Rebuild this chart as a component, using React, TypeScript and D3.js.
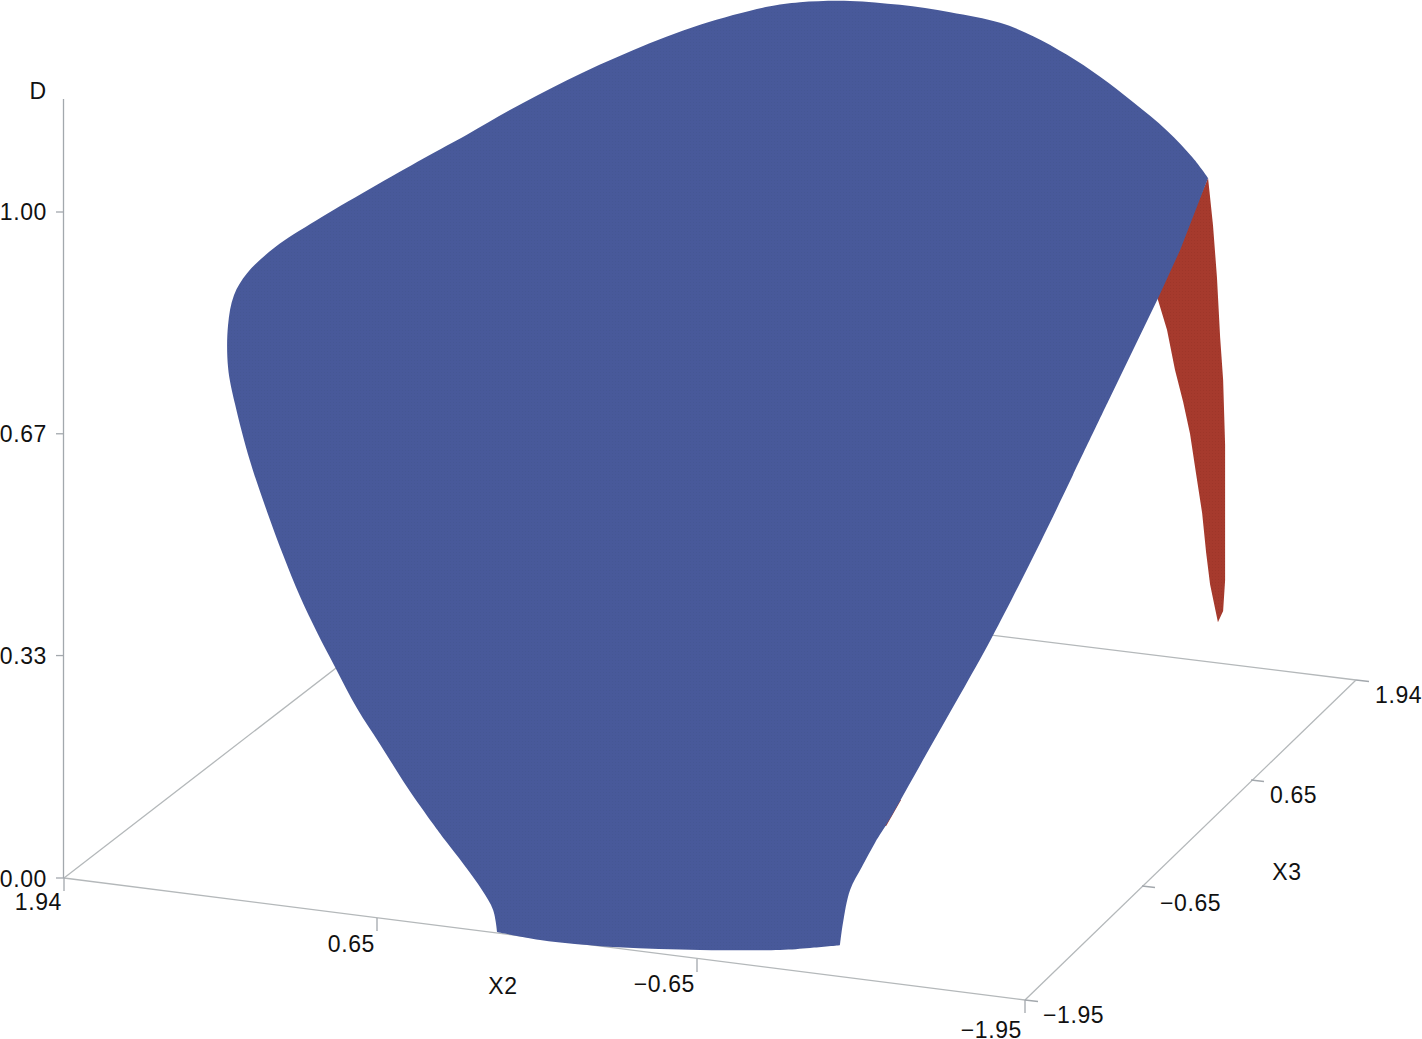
import React from "react";
import * as d3 from "d3";

const WIDTH = 1422;
const HEIGHT = 1039;

const x2Ticks = [1.94, 0.65, -0.65, -1.95];
const x3Ticks = [-1.95, -0.65, 0.65, 1.94];
const dTicks = [0, 0.334, 0.667, 1];

// Blue surface silhouette: horizontal position in X2 units, height in D units.
// Left and top edge, from the bottom-left corner to the apex
const blueTopU = [0.187,0.203,0.248,0.321,0.398,0.446,0.552,0.661,0.754,0.843,0.916,0.985,1.053,1.118,1.187,1.248,1.276,1.276,1.252,1.199,1.086,0.916,0.487,0.309,0.135,-0.096,-0.363,-0.635,-0.906,-1.039,-1.242,-1.444,-1.647,-1.849,-1.983,-2.12,-2.254,-2.387,-2.525,-2.63,-2.691];
const blueTopD = [-0.081,-0.048,-0.018,0.02,0.057,0.081,0.137,0.201,0.255,0.317,0.369,0.423,0.485,0.55,0.626,0.712,0.767,0.83,0.875,0.908,0.947,0.988,1.08,1.116,1.153,1.198,1.243,1.281,1.308,1.315,1.317,1.311,1.3,1.284,1.264,1.236,1.203,1.165,1.122,1.081,1.051];
// Right edge, from the apex to the bottom-right corner
const blueRightU = [-2.691,-2.578,-2.489,-2.29,-2.144,-2.011,-1.817,-1.687,-1.537,-1.4,-1.343,-1.29,-1.242,-1.213,-1.201];
const blueRightD = [1.051,0.943,0.871,0.718,0.605,0.503,0.362,0.275,0.177,0.087,0.053,0.017,-0.018,-0.068,-0.101];
// Bottom edge, back to the first corner
const blueBottomU = [-1.201,-1.08,-0.958,-0.635,-0.303,0.013,0.187];
const blueBottomD = [-0.101,-0.105,-0.108,-0.108,-0.104,-0.093,-0.081];

// Red underside sliver
const redU = [-2.691,-2.711,-2.727,-2.74,-2.752,-2.76,-2.76,-2.752,-2.731,-2.699,-2.683,-2.667,-2.642,-2.618,-2.59,-2.557,-2.525,-2.485];
const redD = [1.051,0.98,0.902,0.811,0.748,0.65,0.447,0.401,0.384,0.441,0.489,0.548,0.608,0.667,0.715,0.763,0.823,0.872];
// Red fleck that shows past the right edge of the blue surface
const redFleckU = [-1.448,-1.388,-1.36,-1.42];
const redFleckD = [0.117,0.078,0.078,0.117];

const uScale = d3.scaleLinear().domain([1.94, -1.95]).range([64, 1025]);
const dScale = d3.scaleLinear().domain([0, 1]).range([878, 212]);
const x2PxX = d3.scaleLinear().domain(x2Ticks).range([64, 377, 697, 1025]);
const x2PxY = d3.scaleLinear().domain(x2Ticks).range([878, 918, 959, 1000]);
const x3PxX = d3.scaleLinear().domain(x3Ticks).range([1025, 1142, 1251, 1356]);
const x3PxY = d3.scaleLinear().domain(x3Ticks).range([1000, 886, 780, 680]);

const fmt = d3.format(".2f");
type P = [number, number];
const curved = d3
  .line<P>()
  .x((p) => uScale(p[0]))
  .y((p) => dScale(p[1]))
  .curve(d3.curveCatmullRom.alpha(0.5));
const straight = d3
  .line<P>()
  .x((p) => uScale(p[0]))
  .y((p) => dScale(p[1]));
const zip = (a: number[], b: number[]) => a.map((v, i) => [v, b[i]] as P);
const cont = (d: string | null) => (d ?? "").replace(/^M/, "L");

const bluePath =
  (curved(zip(blueTopU, blueTopD)) ?? "") +
  cont(straight(zip(blueRightU.slice(0, 4), blueRightD.slice(0, 4)))) +
  cont(curved(zip(blueRightU.slice(3), blueRightD.slice(3)))) +
  cont(curved(zip(blueBottomU, blueBottomD))) +
  "Z";

const AXIS = "#a3a8ad";
const FLOOR = "#b4b8ba";
const TEXT = "#111";
const FONT = "'Liberation Sans', Arial, sans-serif";
const SIZE = 23;

const x2LabelOffset = [
  { x: -2, y: 24 },
  { x: -2, y: 26 },
  { x: -2, y: 25 },
  { x: -3, y: 30 },
];
const x3LabelX = [18, 18, 19, 19];
const x3LabelY = [15, 17, 15, 15];

export default function App() {
  const back: P = [463, 570];
  const text = {
    fontFamily: FONT,
    fontSize: SIZE,
    fill: TEXT,
    letterSpacing: 0.6,
    dominantBaseline: "central" as const,
  };
  return (
    <svg
      width={WIDTH}
      height={HEIGHT}
      viewBox={`0 0 ${WIDTH} ${HEIGHT}`}
      style={{ position: "absolute", left: 0, top: 0, display: "block", background: "#fff" }}
    >
      <defs>
        <pattern id="blueWeave" width={3} height={3} patternUnits="userSpaceOnUse">
          <rect width={3} height={3} fill="#48599a" />
          <rect width={1} height={1} fill="#43568f" opacity={0.55} />
        </pattern>
        <pattern id="redWeave" width={3} height={3} patternUnits="userSpaceOnUse">
          <rect width={3} height={3} fill="#a63a2d" />
          <rect width={1} height={1} fill="#963327" opacity={0.55} />
        </pattern>
      </defs>

      {/* floor */}
      <g stroke={FLOOR} strokeWidth={1.3} fill="none">
        <line x1={x2PxX(1.94)} y1={x2PxY(1.94)} x2={back[0]} y2={back[1]} />
        <line x1={back[0]} y1={back[1]} x2={x3PxX(1.94)} y2={x3PxY(1.94)} />
        <line x1={x2PxX(1.94)} y1={x2PxY(1.94)} x2={x2PxX(-1.95)} y2={x2PxY(-1.95)} />
        <line x1={x3PxX(-1.95)} y1={x3PxY(-1.95)} x2={x3PxX(1.94)} y2={x3PxY(1.94)} />
      </g>

      {/* vertical axis */}
      <g stroke={AXIS} strokeWidth={1.3}>
        <line x1={63.5} y1={99} x2={63.5} y2={dScale(0)} />
        {dTicks.map((d) => (
          <line key={d} x1={56} x2={64} y1={dScale(d)} y2={dScale(d)} />
        ))}
      </g>
      {dTicks.map((d) => (
        <text key={d} x={47} y={dScale(d) + (d === 0 ? 1 : 0)} textAnchor="end" {...text}>
          {fmt(d)}
        </text>
      ))}
      <text x={38} y={91} textAnchor="middle" {...text}>D</text>

      {/* ground axis ticks */}
      <g stroke={AXIS} strokeWidth={1.3}>
        {x2Ticks.map((t) => (
          <line key={t} x1={x2PxX(t)} x2={x2PxX(t)} y1={x2PxY(t)} y2={x2PxY(t) + 13} />
        ))}
        {x3Ticks.map((t) => (
          <line key={t} x1={x3PxX(t)} x2={x3PxX(t) + 13} y1={x3PxY(t)} y2={x3PxY(t) + 1.5} />
        ))}
      </g>
      {x2Ticks.map((t, i) => (
        <text key={t} x={x2PxX(t) + x2LabelOffset[i].x} y={x2PxY(t) + x2LabelOffset[i].y} textAnchor="end" {...text}>
          {fmt(t)}
        </text>
      ))}
      {x3Ticks.map((t, i) => (
        <text key={t} x={x3PxX(t) + x3LabelX[i]} y={x3PxY(t) + x3LabelY[i]} textAnchor="start" {...text}>
          {fmt(t)}
        </text>
      ))}
      <text x={503} y={986} textAnchor="middle" {...text}>X2</text>
      <text x={1287} y={872} textAnchor="middle" {...text}>X3</text>

      {/* surface */}
      <path d={(straight(zip(redU, redD)) ?? "") + "Z"} fill="url(#redWeave)" />
      <path d={(straight(zip(redFleckU, redFleckD)) ?? "") + "Z"} fill="#a63a2d" />
      <path d={bluePath} fill="url(#blueWeave)" />
    </svg>
  );
}
